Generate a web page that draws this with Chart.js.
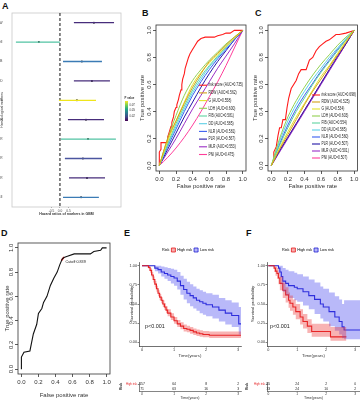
<!DOCTYPE html>
<html>
<head>
<meta charset="utf-8">
<script src="https://cdn.jsdelivr.net/npm/chart.js@4.4.1/dist/chart.umd.min.js"></script>
<style>
  html, body { margin: 0; padding: 0; background: #fff; }
  body { width: 360px; height: 400px; position: relative; overflow: hidden; font-family: "Liberation Sans", Arial, sans-serif; }
  .pane { position: absolute; }
  .pane canvas { display: block; }
  .tag { position: absolute; font-weight: bold; font-size: 9px; line-height: 9px; color: #111; }
</style>
</head>
<body>
<div class="tag" style="left:2px;top:2px">A</div>
<div class="tag" style="left:142px;top:9px">B</div>
<div class="tag" style="left:255px;top:9px">C</div>
<div class="tag" style="left:1px;top:229px">D</div>
<div class="tag" style="left:124px;top:229px">E</div>
<div class="tag" style="left:246px;top:229px">F</div>

<div class="pane" style="left:0;top:0"><canvas id="forest" width="135" height="220"></canvas></div>
<div class="pane" style="left:110px;top:0"><canvas id="rocB" width="140" height="200"></canvas></div>
<div class="pane" style="left:246px;top:0"><canvas id="rocC" width="114" height="200"></canvas></div>
<div class="pane" style="left:0;top:225px"><canvas id="rocD" width="113" height="175"></canvas></div>
<div class="pane" style="left:115px;top:240px"><canvas id="kmE" width="127" height="118"></canvas></div>
<div class="pane" style="left:245px;top:240px"><canvas id="kmF" width="115" height="118"></canvas></div>
<div class="pane" style="left:115px;top:378px"><canvas id="tabE" width="127" height="22"></canvas></div>
<div class="pane" style="left:245px;top:378px"><canvas id="tabF" width="115" height="22"></canvas></div>

<script>
// ---- A: forest plot (log hazard ratio, 95% CI) ----
const markerNames = ['RDW', 'PNI', 'FIB', 'DD', 'G', 'LDH', 'NLR', 'PLR', 'MLR', 'SII'];
const hrLow  = [0.82, -2.59, 0.18, 0.82, -0.06, 0.47, 0.06, 0.29, 0.53, 0.18];
const hrHigh = [3.18,  0.00, 2.47, 2.94,  2.12, 2.59, 3.29, 2.47, 2.65, 2.29];
const hrEst  = [2.00, -1.24, 1.29, 1.88,  1.00, 1.53, 1.65, 1.35, 1.59, 1.24];
const hrColors = ['#472d7b', '#52c3a3', '#3b7bb5', '#472d7b', '#efe51c', '#472d7b', '#52c3a3', '#4b56a0', '#472d7b', '#3b7bb5'];
const hrTicks = [-0.5, 0, 0.5];
const pValueTicks = ['0.075', '0.050', '0.025'];
const viridisStops = ['#fde725', '#7ad151', '#22a884', '#2a788e', '#414487', '#440154'];

// ---- B / C: ROC curves ----
const rocNames = ['risk score', 'RDW', 'G', 'LDH', 'FIB', 'DD', 'NLR', 'PLR', 'MLR', 'PNI'];
const rocColors = ['#ff1a1a', '#d4a017', '#e3e32a', '#92d050', '#5fd3a0', '#5ccfe6', '#3a5ef0', '#2417a6', '#9a2fc6', '#ff3d9a'];
const aucB = ['0.735', '0.562', '0.558', '0.600', '0.581', '0.585', '0.581', '0.567', '0.553', '0.475'];
const aucC = ['0.698', '0.525', '0.534', '0.603', '0.554', '0.585', '0.560', '0.507', '0.501', '0.507'];
const rocTicks = [0, 0.2, 0.4, 0.6, 0.8, 1];
const fprGrid = [0, 0.1, 0.2, 0.3, 0.4, 0.5, 0.6, 0.7, 0.8, 0.9, 1];

const bRiskFpr = [0, 0, 0.02, 0.02, 0.1, 0.1, 0.12, 0.14, 0.15, 0.17, 0.18, 0.2, 0.21, 0.23, 0.24, 0.26, 0.27, 0.28, 0.3, 0.31, 0.33, 0.35, 0.37, 0.4, 0.43, 0.46, 0.5, 0.55, 0.62, 0.66, 0.7, 0.76, 0.8, 0.85, 0.9, 1];
const bRiskTpr = [0, 0.1, 0.12, 0.17, 0.17, 0.21, 0.25, 0.29, 0.32, 0.36, 0.4, 0.43, 0.45, 0.49, 0.52, 0.56, 0.6, 0.64, 0.68, 0.72, 0.76, 0.8, 0.83, 0.86, 0.89, 0.92, 0.94, 0.95, 0.95, 0.95, 0.96, 0.97, 0.98, 0.98, 1, 1];
const bMarkerTpr = [
  [0, 0.2, 0.33, 0.46, 0.58, 0.68, 0.77, 0.83, 0.89, 0.95, 1],   // RDW
  [0, 0.18, 0.33, 0.47, 0.6, 0.69, 0.76, 0.82, 0.88, 0.94, 1],   // G
  [0, 0.2, 0.37, 0.52, 0.63, 0.71, 0.78, 0.84, 0.9, 0.95, 1],    // LDH
  [0, 0.16, 0.31, 0.44, 0.56, 0.66, 0.74, 0.81, 0.88, 0.94, 1],  // FIB
  [0, 0.15, 0.29, 0.42, 0.54, 0.64, 0.73, 0.8, 0.87, 0.94, 1],   // DD
  [0, 0.14, 0.27, 0.4, 0.52, 0.62, 0.71, 0.79, 0.86, 0.93, 1],   // NLR
  [0, 0.12, 0.24, 0.36, 0.47, 0.58, 0.68, 0.77, 0.85, 0.93, 1],  // PLR
  [0, 0.1, 0.2, 0.31, 0.42, 0.52, 0.62, 0.72, 0.81, 0.9, 1],     // MLR
  [0, 0.06, 0.13, 0.21, 0.3, 0.4, 0.51, 0.62, 0.74, 0.87, 1]     // PNI
];

const cRiskFpr = [0, 0.03, 0.03, 0.06, 0.08, 0.1, 0.12, 0.14, 0.17, 0.19, 0.21, 0.24, 0.27, 0.3, 0.33, 0.36, 0.42, 0.46, 0.5, 0.54, 0.58, 0.62, 0.66, 0.7, 0.78, 0.82, 0.9, 1];
const cRiskTpr = [0, 0.04, 0.1, 0.14, 0.22, 0.28, 0.28, 0.34, 0.34, 0.43, 0.5, 0.57, 0.6, 0.63, 0.68, 0.71, 0.71, 0.78, 0.8, 0.85, 0.88, 0.9, 0.92, 0.93, 0.97, 0.97, 0.98, 1];
const cMarkerTpr = [
  [0, 0.12, 0.23, 0.34, 0.45, 0.55, 0.64, 0.73, 0.82, 0.91, 1],
  [0, 0.13, 0.25, 0.36, 0.46, 0.56, 0.66, 0.74, 0.83, 0.92, 1],
  [0, 0.2, 0.36, 0.48, 0.58, 0.67, 0.75, 0.82, 0.89, 0.95, 1],
  [0, 0.15, 0.28, 0.4, 0.5, 0.6, 0.69, 0.77, 0.85, 0.93, 1],
  [0, 0.18, 0.33, 0.45, 0.55, 0.64, 0.72, 0.8, 0.87, 0.94, 1],
  [0, 0.16, 0.3, 0.42, 0.52, 0.61, 0.7, 0.78, 0.86, 0.93, 1],
  [0, 0.11, 0.21, 0.31, 0.41, 0.51, 0.61, 0.71, 0.81, 0.9, 1],
  [0, 0.1, 0.2, 0.3, 0.4, 0.5, 0.6, 0.7, 0.8, 0.9, 1],
  [0, 0.11, 0.21, 0.31, 0.41, 0.51, 0.61, 0.71, 0.8, 0.9, 1]
];

// ---- D: risk score ROC with cutoff ----
const dFpr = [0, 0, 0.03, 0.1, 0.12, 0.14, 0.18, 0.2, 0.24, 0.26, 0.3, 0.34, 0.38, 0.42, 0.45, 0.48, 0.5, 0.54, 0.62, 0.81, 0.85, 0.93, 0.95, 1];
const dTpr = [0, 0.1, 0.14, 0.15, 0.22, 0.29, 0.37, 0.46, 0.5, 0.55, 0.6, 0.69, 0.75, 0.8, 0.86, 0.91, 0.92, 0.93, 0.95, 0.95, 0.97, 0.98, 1, 1];
const dCutFpr = [0.47, 0.5];
const dCutTpr = [0.895, 0.925];
const cutoffText = 'Cutoff:0.839';

// ---- E / F: Kaplan-Meier ----
const survTicks = [0, 0.25, 0.5, 0.75, 1];
const riskTimes = [0, 1, 2, 3];
const riskGroups = ['High risk', 'Low risk'];
const riskColors = ['#e41a1c', '#1f1fd1'];

const eHighT  = [0, 0.2, 0.25, 0.3, 0.35, 0.4, 0.45, 0.5, 0.55, 0.6, 0.65, 0.7, 0.75, 0.8, 0.9, 1.0, 1.1, 1.2, 1.3, 1.4, 1.5, 1.6, 1.7, 1.8, 1.9, 2.1, 3.09];
const eHighS  = [1, 0.98, 0.94, 0.88, 0.82, 0.76, 0.7, 0.64, 0.59, 0.55, 0.5, 0.46, 0.42, 0.38, 0.33, 0.28, 0.24, 0.21, 0.18, 0.17, 0.155, 0.135, 0.12, 0.11, 0.1, 0.09, 0.09];
const eHighLo = [1, 0.96, 0.91, 0.85, 0.78, 0.72, 0.66, 0.6, 0.55, 0.51, 0.46, 0.42, 0.38, 0.34, 0.29, 0.24, 0.2, 0.17, 0.14, 0.13, 0.11, 0.095, 0.08, 0.07, 0.065, 0.055, 0.055];
const eHighUp = [1, 1, 0.97, 0.92, 0.86, 0.8, 0.74, 0.68, 0.63, 0.59, 0.55, 0.51, 0.47, 0.43, 0.38, 0.33, 0.29, 0.26, 0.23, 0.215, 0.2, 0.18, 0.165, 0.155, 0.145, 0.14, 0.14];
const eLowT  = [0, 0.4, 0.5, 0.6, 0.7, 0.8, 0.9, 1.0, 1.1, 1.2, 1.3, 1.4, 1.5, 1.6, 1.7, 1.8, 1.9, 2.0, 2.2, 2.4, 2.6, 2.8, 3.02, 3.09];
const eLowS  = [1, 0.97, 0.95, 0.92, 0.9, 0.88, 0.86, 0.84, 0.8, 0.74, 0.69, 0.64, 0.61, 0.58, 0.55, 0.53, 0.51, 0.49, 0.46, 0.42, 0.38, 0.35, 0.24, 0.24];
const eLowLo = [1, 0.93, 0.9, 0.86, 0.83, 0.8, 0.77, 0.74, 0.69, 0.62, 0.56, 0.51, 0.47, 0.44, 0.41, 0.38, 0.36, 0.34, 0.31, 0.27, 0.23, 0.2, 0.1, 0.1];
const eLowUp = [1, 1, 1, 0.99, 0.98, 0.97, 0.96, 0.95, 0.92, 0.87, 0.83, 0.79, 0.76, 0.73, 0.7, 0.68, 0.66, 0.64, 0.62, 0.58, 0.55, 0.52, 0.46, 0.46];
const eRiskHigh = [157, 64, 8, 2];
const eRiskLow  = [71, 63, 16, 3];

const fHighT  = [0, 0.2, 0.25, 0.3, 0.35, 0.4, 0.5, 0.6, 0.7, 0.75, 0.85, 0.95, 1.1, 1.2, 1.35, 1.5, 2.15, 2.7];
const fHighS  = [1, 0.97, 0.93, 0.9, 0.84, 0.77, 0.68, 0.62, 0.55, 0.51, 0.46, 0.4, 0.33, 0.27, 0.21, 0.14, 0.07, 0.07];
const fHighLo = [1, 0.92, 0.87, 0.83, 0.76, 0.68, 0.58, 0.52, 0.45, 0.41, 0.36, 0.3, 0.23, 0.18, 0.12, 0.07, 0.02, 0.02];
const fHighUp = [1, 1, 0.99, 0.97, 0.92, 0.86, 0.78, 0.72, 0.65, 0.61, 0.56, 0.5, 0.43, 0.37, 0.3, 0.24, 0.2, 0.2];
const fLowT  = [0, 0.35, 0.4, 0.45, 0.5, 0.6, 0.7, 0.9, 1.0, 1.2, 1.4, 1.6, 1.8, 1.9, 2.1, 2.3, 2.45, 2.55, 2.62, 3.17];
const fLowS  = [1, 0.97, 0.92, 0.86, 0.8, 0.77, 0.74, 0.72, 0.7, 0.66, 0.61, 0.56, 0.5, 0.46, 0.4, 0.33, 0.27, 0.2, 0.16, 0.16];
const fLowLo = [1, 0.9, 0.84, 0.76, 0.66, 0.62, 0.58, 0.55, 0.53, 0.48, 0.43, 0.37, 0.31, 0.27, 0.21, 0.15, 0.1, 0.05, 0.04, 0.04];
const fLowUp = [1, 1, 1, 1, 0.97, 0.95, 0.93, 0.91, 0.89, 0.86, 0.82, 0.78, 0.73, 0.7, 0.65, 0.6, 0.56, 0.5, 0.55, 0.55];
const fRiskHigh = [55, 24, 2, 0];
const fRiskLow  = [33, 24, 10, 2];

// ---------------------------------------------------------------
Chart.defaults.font.family = '"Liberation Sans", Arial, sans-serif';
Chart.defaults.color = '#333';
Chart.defaults.animation = false;
Chart.defaults.responsive = false;
Chart.defaults.events = [];
Chart.defaults.plugins.legend.display = false;
Chart.defaults.plugins.tooltip.enabled = false;

const FONT = '"Liberation Sans", Arial, sans-serif';
const pts = (xs, ys) => xs.map((x, i) => ({ x, y: ys[i] }));
const fixedTicks = vals => s => { s.ticks = vals.map(v => ({ value: v })); };

// box round the plotting region
const frame = {
  id: 'frame',
  beforeDatasetsDraw(chart, args, o) {
    const { ctx, chartArea: a } = chart;
    ctx.save();
    ctx.strokeStyle = o.color || '#333';
    ctx.lineWidth = o.width || 0.8;
    ctx.strokeRect(a.left, a.top, a.right - a.left, a.bottom - a.top);
    ctx.restore();
  }
};

// R style: y tick labels turned upright
const rotY = {
  id: 'rotY',
  afterDraw(chart, args, o) {
    const { ctx, chartArea: a } = chart;
    const s = chart.scales.y;
    ctx.save();
    ctx.font = o.size + 'px ' + FONT;
    ctx.fillStyle = '#333';
    ctx.textAlign = 'center';
    ctx.textBaseline = 'middle';
    s.ticks.forEach(t => {
      ctx.save();
      ctx.translate(a.left - o.gap, s.getPixelForValue(t.value));
      ctx.rotate(-Math.PI / 2);
      ctx.fillText(t.value.toFixed(1), 0, 0);
      ctx.restore();
    });
    ctx.restore();
  }
};

// legend of the ROC panels, bottom right inside the box
const rocLegend = {
  id: 'rocLegend',
  afterDatasetsDraw(chart, args, o) {
    const { ctx, chartArea: a } = chart;
    const n = o.labels.length;
    ctx.save();
    ctx.font = '4.6px ' + FONT;
    ctx.textBaseline = 'middle';
    o.labels.forEach((txt, i) => {
      const y = a.bottom - o.bottom - (n - 1 - i) * o.gap;
      const x = a.right - o.right;
      ctx.strokeStyle = rocColors[i];
      ctx.lineWidth = 1.1;
      ctx.beginPath(); ctx.moveTo(x, y); ctx.lineTo(x + 8, y); ctx.stroke();
      ctx.save();
      ctx.translate(x + 9.5, y);
      ctx.scale(0.72, 1);
      ctx.fillStyle = '#222';
      ctx.fillText(txt, 0, 0);
      ctx.restore();
    });
    ctx.restore();
  }
};

// cutoff note next to the red mark in D
const cutLabel = {
  id: 'cutLabel',
  afterDatasetsDraw(chart) {
    const { ctx } = chart;
    const p = chart.getDatasetMeta(1).data[1];
    ctx.save();
    ctx.font = '4.4px ' + FONT;
    ctx.fillStyle = '#222';
    ctx.textBaseline = 'middle';
    ctx.translate(p.x + 1.5, p.y + 5);
    ctx.scale(0.85, 1);
    ctx.fillText(cutoffText, 0, 0);
    ctx.restore();
  }
};

// P value colour bar beside the forest plot
const pBar = {
  id: 'pBar',
  afterDraw(chart) {
    const { ctx, chartArea: a } = chart;
    const x = a.right + 4, y = a.top + 88, h = 20;
    const g = ctx.createLinearGradient(0, y, 0, y + h);
    viridisStops.forEach((c, i) => g.addColorStop(i / (viridisStops.length - 1), c));
    ctx.save();
    ctx.fillStyle = g;
    ctx.fillRect(x, y, 3, h);
    ctx.fillStyle = '#333';
    ctx.font = 'bold 2.8px ' + FONT;
    ctx.textBaseline = 'bottom';
    ctx.fillText('P value', x - 0.5, y - 1);
    ctx.font = '2.6px ' + FONT;
    ctx.textBaseline = 'middle';
    pValueTicks.forEach((t, i) => ctx.fillText(t, x + 4.5, y + 4 + i * 5.5));
    ctx.restore();
  }
};

// p-value text in KM panels
const pLabel = {
  id: 'pLabel',
  afterDatasetsDraw(chart, args, o) {
    const { ctx, chartArea: a, scales: { y } } = chart;
    ctx.save();
    ctx.font = '5.4px ' + FONT;
    ctx.fillStyle = '#222';
    ctx.textBaseline = 'middle';
    ctx.fillText('p<0.001', a.left + o.dx, y.getPixelForValue(0.2));
    ctx.restore();
  }
};

// numbers at risk
const riskNumbers = {
  id: 'riskNumbers',
  afterDatasetsDraw(chart, args, o) {
    const { ctx, scales: { x, y } } = chart;
    ctx.save();
    ctx.font = '3.4px ' + FONT;
    ctx.fillStyle = '#222';
    ctx.textAlign = 'center';
    ctx.textBaseline = 'middle';
    o.rows.forEach((row, r) => {
      row.forEach((n, i) => ctx.fillText(String(n), x.getPixelForValue(riskTimes[i]), y.getPixelForValue(r)));
    });
    ctx.restore();
  }
};

// ---------------- A ----------------
const forestSets = markerNames.map((m, i) => ({
  data: [{ x: hrLow[i], y: i + 1 }, { x: hrHigh[i], y: i + 1 }],
  showLine: true, borderColor: hrColors[i], borderWidth: 1.3, pointRadius: 0
}));
forestSets.push({
  data: [{ x: 0, y: 0.5 }, { x: 0, y: 10.5 }],
  showLine: true, borderColor: '#111', borderWidth: 1, borderDash: [3, 2], pointRadius: 0
});
forestSets.push({
  data: pts(hrEst, markerNames.map((m, i) => i + 1)),
  pointRadius: 1, backgroundColor: '#1a1a1a', borderWidth: 0
});

new Chart(document.getElementById('forest'), {
  type: 'scatter',
  data: { datasets: forestSets },
  options: {
    layout: { padding: { left: 0, top: 13, right: 14, bottom: 4 } },
    plugins: { frame: { color: '#c8c8c8', width: 0.8 } },
    scales: {
      x: {
        min: -2.82, max: 3.59,
        afterBuildTicks: fixedTicks(hrTicks),
        afterFit: s => { s.height = 9; },
        ticks: { font: { size: 3.2 }, padding: 1, color: '#444', callback: v => v.toFixed(1), autoSkip: false, maxRotation: 0 },
        grid: { drawOnChartArea: false, tickLength: 1, color: '#999' },
        border: { display: false },
        title: { display: true, text: 'Hazard ratios of markers in GBM', font: { size: 3.5, weight: 'bold' }, padding: 0 }
      },
      y: {
        min: 0.5, max: 10.5, reverse: true,
        afterBuildTicks: fixedTicks(markerNames.map((m, i) => i + 1)),
        afterFit: s => { s.width = 12; },
        ticks: { font: { size: 3.2 }, padding: 1.5, color: '#444', callback: v => markerNames[v - 1], autoSkip: false },
        grid: { display: false },
        border: { display: false },
        title: { display: true, text: 'Hematological markers', font: { size: 3.5 }, padding: 0 }
      }
    }
  },
  plugins: [frame, pBar]
});

// ---------------- B, C, D ----------------
function rX(xh) {
  return {
    min: -0.04, max: 1.04,
    afterBuildTicks: fixedTicks(rocTicks),
    afterFit: s => { s.height = xh; },
    ticks: { font: { size: 6 }, padding: 1.5, callback: v => v.toFixed(1), autoSkip: false, maxRotation: 0 },
    grid: { drawOnChartArea: false, tickLength: 3, color: '#333', lineWidth: 0.8 },
    border: { display: false },
    title: { display: true, text: 'False positive rate', font: { size: 6 }, padding: 0 }
  };
}
function rY(yw) {
  return {
    min: -0.04, max: 1.04,
    afterBuildTicks: fixedTicks(rocTicks),
    afterFit: s => { s.width = yw; },
    ticks: { display: false },
    grid: { drawOnChartArea: false, tickLength: 3, color: '#333', lineWidth: 0.8 },
    border: { display: false },
    title: { display: true, text: 'True positive rate', font: { size: 6 }, padding: 0 }
  };
}

function rocChart(id, riskFpr, riskTpr, markerTpr, aucs, pad, yw, xh, leg) {
  const sets = markerTpr.map((tpr, i) => ({
    data: pts(fprGrid, tpr), showLine: true, borderColor: rocColors[i + 1],
    borderWidth: 1, pointRadius: 0, cubicInterpolationMode: 'monotone'
  }));
  sets.push({ data: pts(riskFpr, riskTpr), showLine: true, borderColor: rocColors[0], borderWidth: 1.1, pointRadius: 0 });
  return new Chart(document.getElementById(id), {
    type: 'scatter',
    data: { datasets: sets },
    options: {
      layout: { padding: pad },
      plugins: {
        frame: { color: '#333', width: 0.8 },
        rotY: { gap: 6.5, size: 6 },
        rocLegend: Object.assign({ labels: rocNames.map((n, i) => `${n} (AUC=${aucs[i]})`) }, leg)
      },
      scales: { x: rX(xh), y: rY(yw) }
    },
    plugins: [frame, rotY, rocLegend]
  });
}

rocChart('rocB', bRiskFpr, bRiskTpr, bMarkerTpr, aucB,
  { left: 29, top: 25, right: 4, bottom: 10 }, 17, 19, { right: 47, bottom: 16.5, gap: 7.7 });
rocChart('rocC', cRiskFpr, cRiskTpr, cMarkerTpr, aucC,
  { left: 6, top: 25, right: 2.5, bottom: 10 }, 16, 19, { right: 45.5, bottom: 13, gap: 7 });

new Chart(document.getElementById('rocD'), {
  type: 'scatter',
  data: {
    datasets: [
      { data: pts(dFpr, dTpr), showLine: true, borderColor: '#111', borderWidth: 1.1, pointRadius: 0 },
      { data: pts(dCutFpr, dCutTpr), showLine: true, borderColor: '#ee1111', borderWidth: 1.6, pointRadius: 0 }
    ]
  },
  options: {
    layout: { padding: { left: 4, top: 18, right: 3, bottom: 1 } },
    plugins: { frame: { color: '#333', width: 0.8 }, rotY: { gap: 6.5, size: 6 } },
    scales: { x: rX(25), y: rY(14) }
  },
  plugins: [frame, rotY, cutLabel]
});

// ---------------- E, F ----------------
function kmChart(id, g, xr, pad, yw, pdx) {
  const band = (t, v, fill, bg) => ({
    data: pts(t, v), showLine: true, stepped: true, pointRadius: 0,
    borderColor: 'rgba(0,0,0,0)', borderWidth: 1, fill, backgroundColor: bg
  });
  const curve = (t, v, c) => ({
    data: pts(t, v), showLine: true, stepped: true, pointRadius: 0,
    borderColor: c, borderWidth: 1.1, fill: false
  });
  const axisGrid = { drawOnChartArea: false, tickLength: 1.5, color: '#333', lineWidth: 0.6 };
  const axisBorder = { display: true, color: '#333', width: 0.7 };
  return new Chart(document.getElementById(id), {
    type: 'scatter',
    data: {
      datasets: [
        band(g.hT, g.hUp, '+1', 'rgba(236,55,55,0.38)'),
        band(g.hT, g.hLo, false, 'rgba(0,0,0,0)'),
        band(g.lT, g.lUp, '+1', 'rgba(70,70,240,0.38)'),
        band(g.lT, g.lLo, false, 'rgba(0,0,0,0)'),
        curve(g.hT, g.hS, riskColors[0]),
        curve(g.lT, g.lS, riskColors[1])
      ]
    },
    options: {
      layout: { padding: pad },
      plugins: {
        pLabel: { dx: pdx },
        legend: {
          display: true, position: 'top', align: 'center',
          labels: {
            font: { size: 3.8 }, color: '#222', boxWidth: 4, boxHeight: 4, padding: 2,
            generateLabels: () => [
              { text: 'Risk', fillStyle: 'rgba(0,0,0,0)', strokeStyle: 'rgba(0,0,0,0)', lineWidth: 0.01 },
              { text: riskGroups[0], fillStyle: 'rgba(236,55,55,0.4)', strokeStyle: riskColors[0], lineWidth: 0.8 },
              { text: riskGroups[1], fillStyle: 'rgba(70,70,240,0.4)', strokeStyle: riskColors[1], lineWidth: 0.8 }
            ]
          }
        }
      },
      scales: {
        x: {
          min: xr[0], max: xr[1],
          afterBuildTicks: fixedTicks(riskTimes),
          afterFit: s => { s.height = 12; },
          ticks: { font: { size: 3.8 }, padding: 0.5, autoSkip: false, maxRotation: 0 },
          grid: axisGrid, border: axisBorder,
          title: { display: true, text: 'Time(years)', font: { size: 4.3 }, padding: 0 }
        },
        y: {
          min: -0.05, max: 1.05,
          afterBuildTicks: fixedTicks(survTicks),
          afterFit: s => { s.width = yw; },
          ticks: { font: { size: 3.8 }, padding: 0.5, callback: v => v.toFixed(2) },
          grid: axisGrid, border: axisBorder,
          title: { display: true, text: 'Survival probability', font: { size: 4.3 }, padding: 0 }
        }
      }
    },
    plugins: [pLabel]
  });
}

function riskTable(id, high, low, xr, pad, yw) {
  const axisGrid = { drawOnChartArea: false, tickLength: 1.2, color: '#333', lineWidth: 0.6 };
  const axisBorder = { display: true, color: '#333', width: 0.6 };
  return new Chart(document.getElementById(id), {
    type: 'scatter',
    data: { datasets: [] },
    options: {
      layout: { padding: pad },
      plugins: { riskNumbers: { rows: [high, low] } },
      scales: {
        x: {
          type: 'linear', min: xr[0], max: xr[1],
          afterBuildTicks: fixedTicks(riskTimes),
          afterFit: s => { s.height = 9; },
          ticks: { font: { size: 3.2 }, padding: 0.3, autoSkip: false, maxRotation: 0 },
          grid: axisGrid, border: axisBorder,
          title: { display: true, text: 'Time(years)', font: { size: 3.6 }, padding: 0 }
        },
        y: {
          type: 'category', labels: riskGroups, offset: true,
          afterFit: s => { s.width = yw; },
          ticks: { font: { size: 2.8 }, padding: 0.8, color: c => riskColors[c.index] },
          grid: axisGrid, border: axisBorder,
          title: { display: true, text: 'Risk', font: { size: 3.4, weight: 'bold' }, padding: 0 }
        }
      }
    },
    plugins: [riskNumbers]
  });
}

const eRange = [-0.094, 3.09];
const fRange = [-0.045, 3.17];

kmChart('kmE',
  { hT: eHighT, hS: eHighS, hLo: eHighLo, hUp: eHighUp, lT: eLowT, lS: eLowS, lLo: eLowLo, lUp: eLowUp },
  eRange, { left: 14, top: 6, right: 1, bottom: 0 }, 10, 6);
kmChart('kmF',
  { hT: fHighT, hS: fHighS, hLo: fHighLo, hUp: fHighUp, lT: fLowT, lS: fLowS, lLo: fLowLo, lUp: fLowUp },
  fRange, { left: 5, top: 6, right: 0, bottom: 0 }, 17, 3);

riskTable('tabE', eRiskHigh, eRiskLow, eRange, { left: 4, top: 4, right: 1, bottom: 0 }, 20);
riskTable('tabF', fRiskHigh, fRiskLow, fRange, { left: 0, top: 4, right: 0, bottom: 0 }, 22);
</script>
</body>
</html>
